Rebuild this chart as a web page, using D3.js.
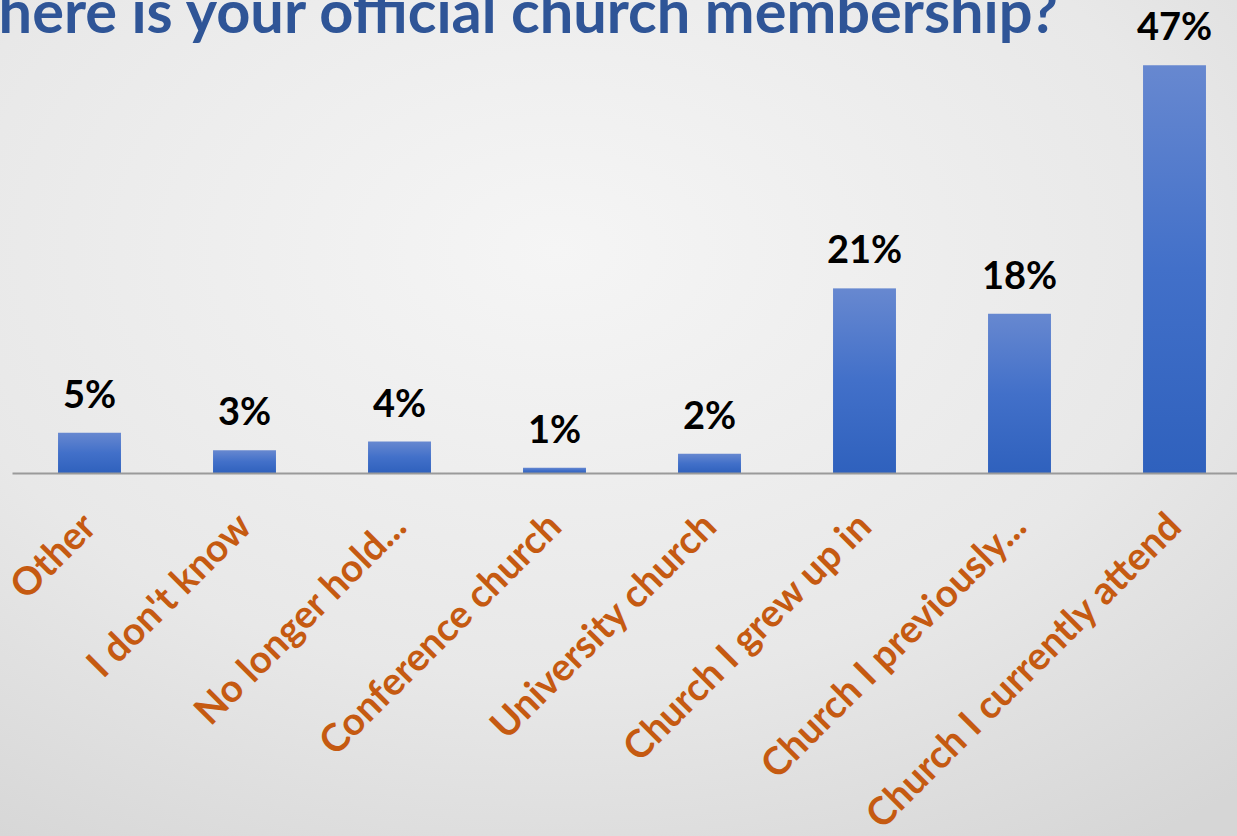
<!DOCTYPE html>
<html>
<head>
<meta charset="utf-8">
<script src="https://cdn.jsdelivr.net/npm/d3@7"></script>
<style>
  body { margin: 0; overflow: hidden; }
  svg { display: block; }
</style>
</head>
<body>
<script>
// chart data
var categories = ["Other", "I don't know", "No longer hold...", "Conference church",
  "University church", "Church I grew up in", "Church I previously...", "Church I currently attend"];
var shares = [4.6, 2.6, 3.6, 0.6, 2.2, 21.1, 18.2, 46.6];
var titleText = "Where is your official church membership?";

var width = 1237,
  height = 836;

var svg = d3.select("body").append("svg")
  .attr("width", width)
  .attr("height", height);

var defs = svg.append("defs");

// slide background
var bg = defs.append("radialGradient")
  .attr("id", "bg")
  .attr("cx", "45%").attr("cy", "30%").attr("r", "85%");
bg.append("stop").attr("offset", "0%").attr("stop-color", "#f5f5f5");
bg.append("stop").attr("offset", "60%").attr("stop-color", "#e8e8e8");
bg.append("stop").attr("offset", "100%").attr("stop-color", "#d6d6d6");

// bar fill
var barGrad = defs.append("linearGradient")
  .attr("id", "barGrad")
  .attr("x1", 0).attr("y1", 0).attr("x2", 0).attr("y2", 1);
barGrad.append("stop").attr("offset", "0%").attr("stop-color", "#6788d0");
barGrad.append("stop").attr("offset", "50%").attr("stop-color", "#4270c9");
barGrad.append("stop").attr("offset", "100%").attr("stop-color", "#2f61bd");

svg.append("rect")
  .attr("width", width)
  .attr("height", height)
  .attr("fill", "url(#bg)");

// title, cut at the top left like the slide
svg.append("text")
  .attr("x", 1058)
  .attr("y", 33)
  .attr("text-anchor", "end")
  .style("font", "bold 59.5px Lato")
  .style("fill", "#2f5597")
  .text(titleText);

var baseY = 473;

var x = d3.scaleBand()
  .domain(categories)
  .range([12, 1252])
  .paddingInner(0.594)
  .paddingOuter(0.297);

var y = d3.scaleLinear()
  .domain([0, 50])
  .range([baseY, baseY - 50 * 8.75]);

// bars
svg.selectAll(".bar")
  .data(shares)
  .enter().append("rect")
  .attr("class", "bar")
  .attr("x", function(d, i) { return x(categories[i]); })
  .attr("y", function(d) { return y(d); })
  .attr("width", x.bandwidth())
  .attr("height", function(d) { return baseY - y(d); })
  .attr("fill", "url(#barGrad)");

// value labels
svg.selectAll(".val")
  .data(shares)
  .enter().append("text")
  .attr("class", "val")
  .attr("x", function(d, i) { return x(categories[i]) + x.bandwidth() / 2; })
  .attr("y", function(d) { return y(d) - 25; })
  .attr("text-anchor", "middle")
  .style("font", "bold 38px Lato")
  .style("fill", "#000")
  .text(function(d) { return Math.round(d) + "%"; });

// category axis
var axis = svg.append("g")
  .attr("transform", "translate(0," + baseY + ")")
  .call(d3.axisBottom(x).tickSize(0).tickSizeOuter(0));

axis.select(".domain")
  .attr("stroke", "#9a9a9a")
  .attr("stroke-width", 2);

axis.selectAll(".tick text")
  .attr("x", 0)
  .attr("y", 0)
  .attr("dy", 0)
  .attr("text-anchor", "end")
  .attr("transform", "translate(9,56) rotate(-45)")
  .style("font", "bold 38.5px Lato")
  .style("fill", "#c55a11");
</script>
</body>
</html>
